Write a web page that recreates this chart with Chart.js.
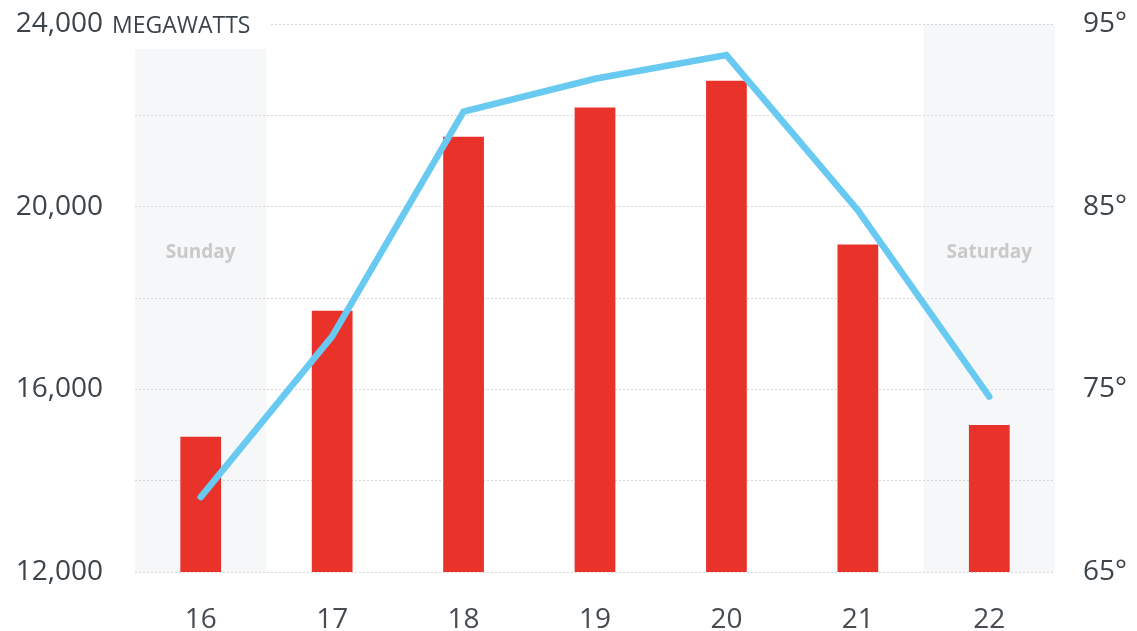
<!DOCTYPE html>
<html>
<head>
<meta charset="utf-8">
<script src="https://cdn.jsdelivr.net/npm/chart.js@4"></script>
<style>
  html, body { margin: 0; padding: 0; background: #fff; }
  #wrap { width: 1137px; height: 631px; }
</style>
</head>
<body>
<div id="wrap"><canvas id="chart" width="1137" height="631"></canvas></div>
<script>
const days = ['16', '17', '18', '19', '20', '21', '22'];
const weekendDays = { '16': 'Sunday', '22': 'Saturday' };
const demandMW = [14960, 17720, 21530, 22170, 22760, 19170, 15220];
const tempF = [69.1, 77.9, 90.2, 92.0, 93.3, 84.8, 74.6];

const textColor = '#3d4449';
const fontFamily = '"Open Sans", "Noto Sans", sans-serif';

const weekendShading = {
    id: 'weekendShading',
    beforeDraw(chart) {
        const { ctx, chartArea, scales } = chart;
        const x = scales.x;
        const half = (x.getPixelForValue(1) - x.getPixelForValue(0)) / 2;
        ctx.save();
        days.forEach((d, i) => {
            if (!weekendDays[d]) return;
            const cx = x.getPixelForValue(i);
            ctx.fillStyle = '#f6f7f9';
            ctx.fillRect(cx - half, chartArea.top, half * 2, chartArea.bottom - chartArea.top);
            ctx.fillStyle = '#c9c9c9';
            ctx.font = 'bold 19px ' + fontFamily;
            ctx.textAlign = 'center';
            ctx.textBaseline = 'middle';
            ctx.fillText(weekendDays[d], cx, 253);
        });
        ctx.restore();
    },
    beforeDatasetsDraw(chart) {
        // white box under the unit label, then the label itself
        const { ctx, chartArea } = chart;
        ctx.save();
        ctx.fillStyle = '#fff';
        ctx.fillRect(chartArea.left, 0, 135, 49);
        ctx.fillStyle = textColor;
        ctx.font = '23px ' + fontFamily;
        ctx.textAlign = 'left';
        ctx.textBaseline = 'middle';
        ctx.fillText('MEGAWATTS', 112, chartArea.top + 2);
        ctx.restore();
    }
};

function noVertPad(scale) {
    scale.paddingTop = 0;
    scale.paddingBottom = 0;
}

new Chart(document.getElementById('chart').getContext('2d'), {
    data: {
        labels: days,
        datasets: [{
            type: 'line',
            label: 'Temperature',
            data: tempF,
            yAxisID: 'yTemp',
            borderColor: '#68c9f1',
            borderWidth: 6.5,
            borderCapStyle: 'round',
            borderJoinStyle: 'miter',
            pointRadius: 0,
            tension: 0,
            order: 0
        }, {
            type: 'bar',
            label: 'Demand',
            data: demandMW,
            yAxisID: 'y',
            backgroundColor: '#e8322a',
            categoryPercentage: 1,
            barPercentage: 0.31,
            order: 1
        }]
    },
    options: {
        responsive: false,
        animation: false,
        layout: { padding: { top: 24, bottom: 0, left: 0, right: 0 } },
        plugins: {
            legend: { display: false },
            tooltip: { enabled: false }
        },
        scales: {
            x: {
                grid: { display: false, drawTicks: false },
                border: { display: false },
                ticks: {
                    color: '#464c52',
                    font: { family: fontFamily, size: 28 },
                    padding: 31
                },
                afterFit(scale) { scale.height = 59; }
            },
            y: {
                position: 'left',
                min: 12000,
                max: 24000,
                ticks: {
                    stepSize: 2000,
                    color: textColor,
                    font: { family: fontFamily, size: 28 },
                    padding: 32,
                    callback: v => v % 4000 === 0 ? v.toLocaleString('en-US') : ''
                },
                grid: { color: '#d6d6d6', lineWidth: 1, drawTicks: false },
                border: { display: false, dash: [2, 2] },
                afterFit(scale) { scale.width = 135; noVertPad(scale); }
            },
            yTemp: {
                position: 'right',
                min: 65,
                max: 95,
                ticks: {
                    stepSize: 5,
                    color: textColor,
                    font: { family: fontFamily, size: 28 },
                    padding: 28,
                    callback: v => (v - 65) % 10 === 0 ? v + '°' : ''
                },
                grid: { display: false, drawTicks: false },
                border: { display: false },
                afterFit(scale) { scale.width = 82; noVertPad(scale); }
            }
        }
    },
    plugins: [weekendShading]
});
</script>
</body>
</html>
